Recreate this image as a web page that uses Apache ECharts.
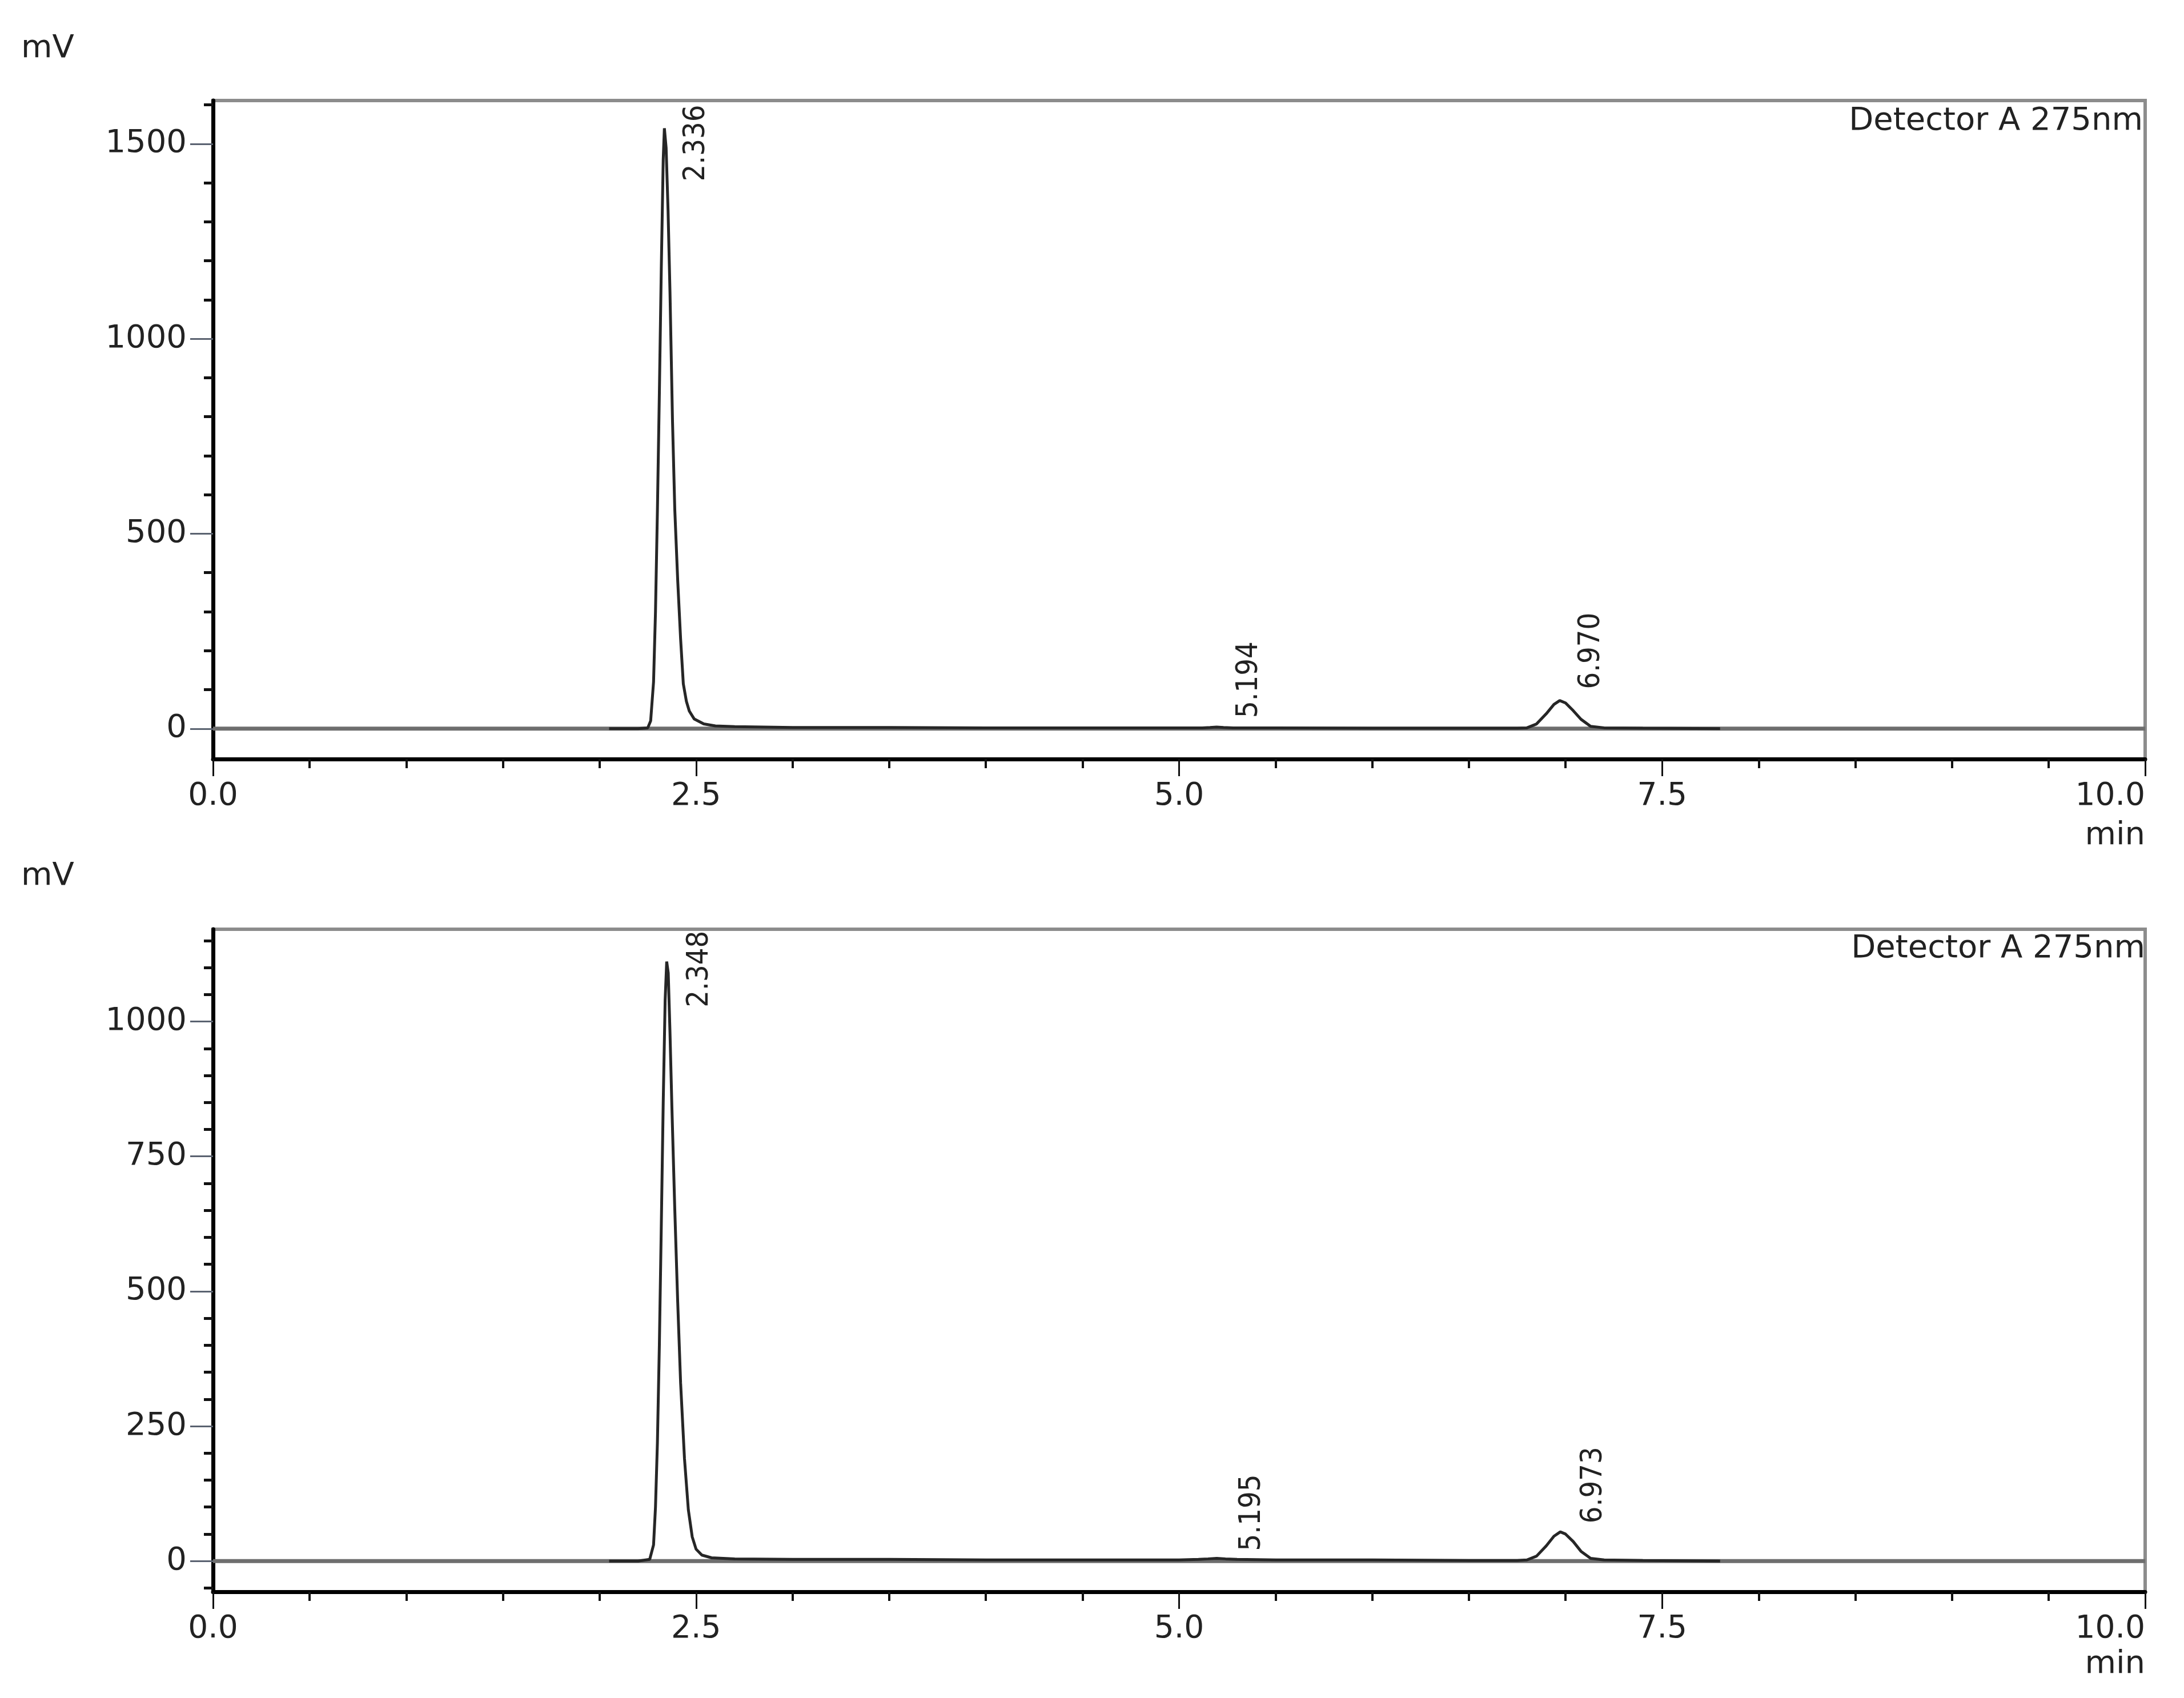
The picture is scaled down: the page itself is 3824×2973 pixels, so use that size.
<!DOCTYPE html>
<html>
<head>
<meta charset="utf-8">
<title>Chromatogram - Detector A 275nm</title>
<script src="https://cdn.jsdelivr.net/npm/echarts@6/dist/echarts.min.js"></script>
<style>
  html, body { margin: 0; padding: 0; background: #fff; }
  #main { width: 3824px; height: 2973px; }
</style>
</head>
<body>
<div id="main"></div>
<script>
  // upper run: retention time (min) and signal (mV)
  const timeA = [2.05, 2.20, 2.25, 2.265, 2.28, 2.29, 2.30, 2.31, 2.32, 2.33,
    2.336, 2.345, 2.355, 2.365, 2.378, 2.39, 2.405, 2.42, 2.434, 2.45,
    2.465, 2.49, 2.54, 2.60, 2.70, 3.00, 3.50, 4.00, 4.50, 5.00,
    5.12, 5.16, 5.194, 5.23, 5.28, 5.50, 6.00, 6.50, 6.75, 6.80,
    6.85, 6.90, 6.94, 6.97, 7.00, 7.04, 7.08, 7.13, 7.20, 7.40, 7.80];
  const signalA = [0, 0, 2, 20, 120, 300, 560, 860, 1180, 1460,
    1540, 1490, 1330, 1120, 790, 560, 380, 230, 115, 70,
    45, 25, 12, 7, 5, 3, 3, 2, 2, 2,
    2, 3, 4, 3, 2, 2, 1, 1, 1, 2,
    12, 38, 62, 72, 66, 46, 24, 6, 2, 1, 0];

  // lower run
  const timeB = [2.05, 2.20, 2.26, 2.28, 2.29, 2.30, 2.31, 2.32, 2.33, 2.34,
    2.348, 2.356, 2.365, 2.375, 2.39, 2.405, 2.42, 2.44, 2.46, 2.48,
    2.50, 2.53, 2.58, 2.70, 3.00, 3.50, 4.00, 4.50, 5.00, 5.10,
    5.15, 5.195, 5.24, 5.30, 5.50, 6.00, 6.50, 6.75, 6.80, 6.85,
    6.90, 6.94, 6.973, 7.00, 7.04, 7.08, 7.13, 7.20, 7.40, 7.80];
  const signalB = [0, 0, 3, 30, 100, 220, 400, 620, 850, 1040,
    1111, 1090, 980, 840, 650, 480, 330, 190, 95, 45,
    22, 11, 6, 4, 3, 3, 2, 2, 2, 3,
    4, 5, 4, 3, 2, 2, 1, 1, 2, 9,
    28, 46, 54, 50, 36, 18, 5, 2, 1, 0];

  // labelled peaks (retention times)
  const peaksA = [2.336, 5.194, 6.970];
  const peaksB = [2.348, 5.195, 6.973];

  // axes
  const xRange = [0, 10];
  const xStep = 2.5;
  const yRangeA = [-78, 1611];
  const yRangeB = [-57, 1171];
  const yTicksA = [0, 500, 1000, 1500];
  const yTicksB = [0, 250, 500, 750, 1000];
  const yMinorA = [100, 200, 300, 400, 600, 700, 800, 900, 1100, 1200, 1300, 1400, 1600];
  const yMinorB = [-50, 50, 100, 150, 200, 300, 350, 400, 450, 550, 600, 650, 700,
    800, 850, 900, 950, 1050, 1100, 1150];
  const detectorName = 'Detector A 275nm';

  const font = '"DejaVu Sans", sans-serif';
  const narrow = '"Liberation Sans Narrow", "DejaVu Sans Condensed", sans-serif';
  const ink = '#222';

  const chart = echarts.init(document.getElementById('main'));

  function xAxisFor(i) {
    return {
      type: 'value', gridIndex: i, min: xRange[0], max: xRange[1], interval: xStep,
      axisLine: { onZero: false, lineStyle: { color: '#000', width: 7 } },
      axisTick: { length: 30, lineStyle: { color: '#111', width: 3 } },
      minorTick: { show: true, splitNumber: 5, length: 16, lineStyle: { color: '#111', width: 4 } },
      axisLabel: {
        margin: 38, fontSize: 55, fontFamily: font, color: ink,
        formatter: (v) => v.toFixed(1), alignMaxLabel: 'right'
      },
      splitLine: { show: false },
      minorSplitLine: { show: false }
    };
  }
  function yMajor(i, range, ticks) {
    return {
      type: 'value', gridIndex: i, min: range[0], max: range[1], position: 'left',
      axisLine: { show: true, onZero: false, lineStyle: { color: '#000', width: 7 } },
      axisTick: { show: true, length: 40, customValues: ticks, lineStyle: { color: '#5a6270', width: 3 } },
      axisLabel: {
        customValues: ticks, margin: 46, fontSize: 56, fontFamily: font, color: ink,
        formatter: (v) => String(v)
      },
      splitLine: { show: false }
    };
  }
  function yMinor(i, range, ticks) {
    return {
      type: 'value', gridIndex: i, min: range[0], max: range[1], position: 'left', offset: 0,
      axisLine: { show: false },
      axisTick: { show: true, length: 16, customValues: ticks, lineStyle: { color: '#111', width: 5 } },
      axisLabel: { show: false },
      splitLine: { show: false }
    };
  }
  function zeroLine(i) {
    return {
      type: 'line', xAxisIndex: i, yAxisIndex: i * 2, silent: true,
      symbol: 'none', data: [[xRange[0], 0], [xRange[1], 0]],
      lineStyle: { color: '#6e6e6e', width: 7 }
    };
  }
  function trace(i, time, signal) {
    return {
      type: 'line', xAxisIndex: i, yAxisIndex: i * 2, silent: true,
      symbol: 'none', data: time.map((t, k) => [t, signal[k]]),
      lineStyle: { color: '#262626', width: 5 }
    };
  }

  const option = {
    animation: false,
    backgroundColor: '#fff',
    grid: [
      { left: 373, top: 176, width: 3383, height: 1153, show: true, borderColor: '#8c8c8c', borderWidth: 6 },
      { left: 373, top: 1627, width: 3383, height: 1160, show: true, borderColor: '#8c8c8c', borderWidth: 6 }
    ],
    xAxis: [xAxisFor(0), xAxisFor(1)],
    yAxis: [
      yMajor(0, yRangeA, yTicksA), yMinor(0, yRangeA, yMinorA),
      yMajor(1, yRangeB, yTicksB), yMinor(1, yRangeB, yMinorB)
    ],
    series: [zeroLine(0), trace(0, timeA, signalA), zeroLine(1), trace(1, timeB, signalB)]
  };
  chart.setOption(option);

  // fixed captions
  function caption(text, x, y, align) {
    return {
      type: 'text', x: x, y: y, silent: true,
      style: { text: text, font: '56px ' + font, fill: ink, align: align, verticalAlign: 'middle' }
    };
  }
  const graphics = [
    caption('mV', 37, 85, 'left'),
    caption('mV', 37, 1534, 'left'),
    caption('min', 3756, 1463, 'right'),
    caption('min', 3756, 2914, 'right'),
    caption(detectorName, 3752, 212, 'right'),
    caption(detectorName, 3756, 1661, 'right')
  ];

  // retention time labels, placed next to each apex (shift in px)
  const shiftA = [[56, 93], [57, -16], [56, -20]];
  const shiftB = [[58, 80], [62, -13], [59, -15]];
  [[0, timeA, signalA, peaksA, shiftA], [1, timeB, signalB, peaksB, shiftB]].forEach(([g, time, signal, peaks, shift]) => {
    peaks.forEach((t, k) => {
      const h = signal[time.indexOf(t)];
      const p = chart.convertToPixel({ xAxisIndex: g, yAxisIndex: g * 2 }, [t, h]);
      graphics.push({
        type: 'text', x: p[0] + shift[k][0], y: p[1] + shift[k][1], rotation: Math.PI / 2, silent: true,
        style: { text: t.toFixed(3), font: '52px ' + narrow, fill: ink, align: 'left', verticalAlign: 'middle' }
      });
    });
  });
  chart.setOption({ graphic: graphics });

  window.onresize = function () {
    chart.resize();
  };
</script>
</body>
</html>
